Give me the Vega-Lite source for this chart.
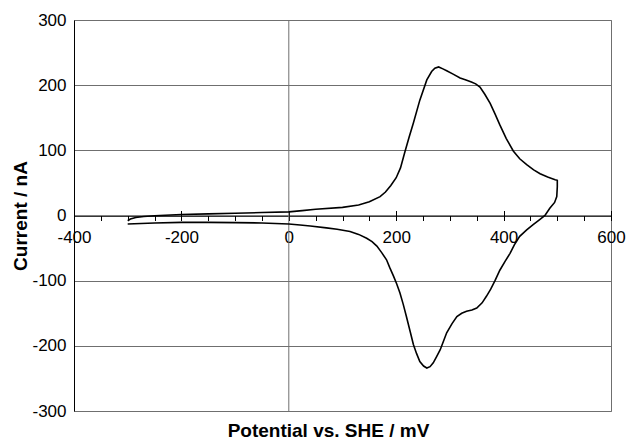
{
  "$schema": "https://vega.github.io/schema/vega-lite/v6.json",
  "width": 537,
  "height": 391,
  "autosize": {"type": "none"},
  "padding": {"left": 74, "top": 20, "right": 16, "bottom": 36},
  "background": "white",
  "config": {
    "view": {"stroke": "#6f6f6f", "strokeWidth": 1},
    "font": "Liberation Sans"
  },
  "layer": [
    {
      "data": {"values": [{"E": 0}]},
      "mark": {"type": "rule", "color": "#6f6f6f", "strokeWidth": 1},
      "encoding": {
        "x": {
          "field": "E",
          "type": "quantitative",
          "scale": {"domain": [-400, 600], "nice": false, "zero": false},
          "axis": {
            "orient": "top",
            "offset": -195.5,
            "values": [-400, -200, 0, 200, 400, 600],
            "tickSize": 5,
            "tickColor": "black",
            "tickWidth": 1,
            "labels": false,
            "domain": false,
            "grid": false,
            "title": null
          }
        }
      }
    },
    {
      "data": {
        "values": [
          {"i": 1, "E": -300, "I": -8},
          {"i": 2, "E": -295, "I": -5.5},
          {"i": 3, "E": -285, "I": -3},
          {"i": 4, "E": -270, "I": -1.5},
          {"i": 5, "E": -250, "I": -0.5},
          {"i": 6, "E": -200, "I": 1.5},
          {"i": 7, "E": -150, "I": 2.5},
          {"i": 8, "E": -100, "I": 3.5},
          {"i": 9, "E": -50, "I": 4.5},
          {"i": 10, "E": 0, "I": 5.5},
          {"i": 11, "E": 25, "I": 7.5},
          {"i": 12, "E": 50, "I": 9.5},
          {"i": 13, "E": 100, "I": 12.5},
          {"i": 14, "E": 130, "I": 16},
          {"i": 15, "E": 150, "I": 21},
          {"i": 16, "E": 170, "I": 29},
          {"i": 17, "E": 180, "I": 36},
          {"i": 18, "E": 190, "I": 46},
          {"i": 19, "E": 200, "I": 58},
          {"i": 20, "E": 208, "I": 73},
          {"i": 21, "E": 216, "I": 97},
          {"i": 22, "E": 224, "I": 120},
          {"i": 23, "E": 232, "I": 142},
          {"i": 24, "E": 244, "I": 177},
          {"i": 25, "E": 257, "I": 208},
          {"i": 26, "E": 266, "I": 221},
          {"i": 27, "E": 272, "I": 226},
          {"i": 28, "E": 279, "I": 228},
          {"i": 29, "E": 287, "I": 225},
          {"i": 30, "E": 294, "I": 222},
          {"i": 31, "E": 306, "I": 217},
          {"i": 32, "E": 319, "I": 211},
          {"i": 33, "E": 330, "I": 208},
          {"i": 34, "E": 340, "I": 205},
          {"i": 35, "E": 348, "I": 202},
          {"i": 36, "E": 356, "I": 197},
          {"i": 37, "E": 365, "I": 186},
          {"i": 38, "E": 375, "I": 172},
          {"i": 39, "E": 384, "I": 156},
          {"i": 40, "E": 393, "I": 139},
          {"i": 41, "E": 405, "I": 118},
          {"i": 42, "E": 418, "I": 99},
          {"i": 43, "E": 430, "I": 87},
          {"i": 44, "E": 443, "I": 78},
          {"i": 45, "E": 456, "I": 70},
          {"i": 46, "E": 468, "I": 64},
          {"i": 47, "E": 482, "I": 59},
          {"i": 48, "E": 496, "I": 55},
          {"i": 49, "E": 500, "I": 54},
          {"i": 50, "E": 500, "I": 44},
          {"i": 51, "E": 499, "I": 29},
          {"i": 52, "E": 495, "I": 20},
          {"i": 53, "E": 486, "I": 11},
          {"i": 54, "E": 477, "I": 0},
          {"i": 55, "E": 466, "I": -7},
          {"i": 56, "E": 455, "I": -14},
          {"i": 57, "E": 443, "I": -22},
          {"i": 58, "E": 430, "I": -32},
          {"i": 59, "E": 420, "I": -45},
          {"i": 60, "E": 412, "I": -58},
          {"i": 61, "E": 403, "I": -70},
          {"i": 62, "E": 393, "I": -84},
          {"i": 63, "E": 384, "I": -100},
          {"i": 64, "E": 376, "I": -113},
          {"i": 65, "E": 368, "I": -124},
          {"i": 66, "E": 360, "I": -134},
          {"i": 67, "E": 350, "I": -142},
          {"i": 68, "E": 341, "I": -145},
          {"i": 69, "E": 331, "I": -147},
          {"i": 70, "E": 322, "I": -150},
          {"i": 71, "E": 313, "I": -155},
          {"i": 72, "E": 304, "I": -166},
          {"i": 73, "E": 294, "I": -180},
          {"i": 74, "E": 288, "I": -193},
          {"i": 75, "E": 282, "I": -206},
          {"i": 76, "E": 275, "I": -217},
          {"i": 77, "E": 269, "I": -226},
          {"i": 78, "E": 263, "I": -232},
          {"i": 79, "E": 257, "I": -234},
          {"i": 80, "E": 251, "I": -231},
          {"i": 81, "E": 244, "I": -224},
          {"i": 82, "E": 238, "I": -212},
          {"i": 83, "E": 232, "I": -198},
          {"i": 84, "E": 226, "I": -178},
          {"i": 85, "E": 219, "I": -155},
          {"i": 86, "E": 213, "I": -136},
          {"i": 87, "E": 207, "I": -119},
          {"i": 88, "E": 201, "I": -105},
          {"i": 89, "E": 195, "I": -93},
          {"i": 90, "E": 188, "I": -80},
          {"i": 91, "E": 182, "I": -68},
          {"i": 92, "E": 173, "I": -57},
          {"i": 93, "E": 164, "I": -47},
          {"i": 94, "E": 155, "I": -40},
          {"i": 95, "E": 145, "I": -35},
          {"i": 96, "E": 130, "I": -29},
          {"i": 97, "E": 114, "I": -24.5},
          {"i": 98, "E": 90, "I": -21},
          {"i": 99, "E": 70, "I": -19},
          {"i": 100, "E": 40, "I": -16},
          {"i": 101, "E": 21, "I": -14.5},
          {"i": 102, "E": 0, "I": -13},
          {"i": 103, "E": -50, "I": -11.5},
          {"i": 104, "E": -100, "I": -11},
          {"i": 105, "E": -150, "I": -10.5},
          {"i": 106, "E": -200, "I": -10.5},
          {"i": 107, "E": -250, "I": -11.5},
          {"i": 108, "E": -300, "I": -13}
        ]
      },
      "mark": {"type": "line", "color": "black", "strokeWidth": 1.6, "interpolate": "linear"},
      "encoding": {
        "order": {"field": "i", "type": "quantitative"},
        "x": {
          "field": "E",
          "type": "quantitative",
          "scale": {"domain": [-400, 600], "nice": false, "zero": false},
          "axis": {
            "orient": "bottom",
            "offset": -195.5,
            "values": [-400, -350, -300, -250, -200, -150, -100, -50, 0, 50, 100, 150, 200, 250, 300, 350, 400, 450, 500, 550, 600],
            "labelExpr": "datum.value % 200 == 0 ? '' + datum.value : ''",
            "tickSize": 5,
            "tickColor": "black",
            "tickWidth": 1,
            "domainColor": "black",
            "domainWidth": 1,
            "grid": false,
            "labelFont": "Liberation Sans",
            "labelFontSize": 17,
            "labelColor": "black",
            "labelPadding": 9,
            "labelOverlap": false,
            "labelFlush": false,
            "labelBound": false,
            "title": "Potential vs. SHE / mV",
            "titleFont": "Liberation Sans",
            "titleFontSize": 19,
            "titleFontWeight": "bold",
            "titleColor": "black",
            "titlePadding": 176,
            "titleX": 254
          }
        },
        "y": {
          "field": "I",
          "type": "quantitative",
          "scale": {"domain": [-300, 300], "nice": false, "zero": false},
          "axis": {
            "orient": "left",
            "values": [-300, -200, -100, 0, 100, 200, 300],
            "labelExpr": "'' + datum.value",
            "ticks": false,
            "grid": true,
            "gridColor": "#6f6f6f",
            "gridWidth": 1,
            "domainColor": "black",
            "domainWidth": 1,
            "labelFont": "Liberation Sans",
            "labelFontSize": 17,
            "labelColor": "black",
            "labelPadding": 8,
            "labelFlush": false,
            "labelOverlap": false,
            "title": "Current / nA",
            "titleFont": "Liberation Sans",
            "titleFontSize": 19,
            "titleFontWeight": "bold",
            "titleColor": "black",
            "titlePadding": 1
          }
        }
      }
    }
  ],
  "resolve": {"axis": {"x": "independent"}}
}
